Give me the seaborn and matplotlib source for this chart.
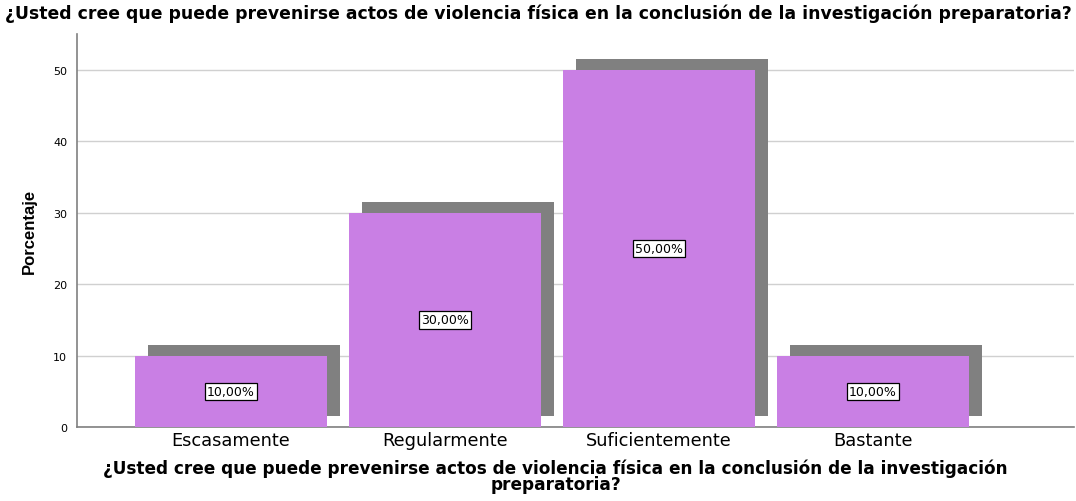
import numpy as np
import pandas as pd
import matplotlib
matplotlib.use("Agg")
import matplotlib.pyplot as plt
import seaborn as sns

# datos
categorias = ["Escasamente", "Regularmente", "Suficientemente", "Bastante"]
porcentajes = [10.0, 30.0, 50.0, 10.0]
etiquetas = ["10,00%", "30,00%", "50,00%", "10,00%"]
titulo = "¿Usted cree que puede prevenirse actos de violencia física en la conclusión de la investigación preparatoria?"
titulo_x = "¿Usted cree que puede prevenirse actos de violencia física en la conclusión de la investigación\npreparatoria?"

sns.set_style("white")
plt.rcParams['font.family'] = ['DejaVu Sans']
plt.rcParams['text.color'] = 'black'
plt.rcParams['axes.labelcolor'] = 'black'
plt.rcParams['xtick.color'] = 'black'
plt.rcParams['ytick.color'] = 'black'

df = pd.DataFrame({"categoria": categorias, "porcentaje": porcentajes})

fig = plt.figure(figsize=(10.76, 5.02), dpi=100)
ax = fig.add_axes([77 / 1076, 1 - 428 / 502, (1074 - 77) / 1076, (428 - 35) / 502])

# sombra de las barras
pos = np.arange(len(categorias))
ax.bar(pos + 0.062, porcentajes, bottom=1.5, width=0.897, color="#808080",
       linewidth=0, zorder=2)

# barras principales
sns.barplot(data=df, x="categoria", y="porcentaje", color="#C97FE4",
            saturation=1, width=0.897, ax=ax, zorder=3, linewidth=0)

for i, (v, txt) in enumerate(zip(porcentajes, etiquetas)):
    ax.text(i, v / 2, txt, ha="center", va="center", fontsize=9, zorder=5,
            bbox=dict(boxstyle="square,pad=0.18", fc="white", ec="black", lw=0.9))

ax.set_xlim(-0.72, 3.94)
ax.set_ylim(0, 55)
ax.set_yticks([0, 10, 20, 30, 40, 50])
ax.yaxis.grid(True, color="#d0d0d0", linewidth=1, zorder=0)
ax.set_axisbelow(True)

for s in ["top", "right"]:
    ax.spines[s].set_visible(False)
for s in ["left", "bottom"]:
    ax.spines[s].set_color("#808080")
    ax.spines[s].set_linewidth(1.2)

ax.tick_params(axis="y", labelsize=8, length=4, color="#808080", pad=3)
ax.tick_params(axis="x", labelsize=12.8, length=0, pad=3)

ax.set_ylabel("Porcentaje", fontsize=12, fontweight="bold", labelpad=12,
              family=["Liberation Sans Narrow", "Liberation Sans"])
ax.set_xlabel(titulo_x, fontsize=12.2, fontweight="bold", linespacing=0.88)
ax.xaxis.set_label_coords(0.48, -0.08, transform=ax.transAxes)
ax.xaxis.label.set_va("top")

fig.text(0.5, 0.992, titulo, ha="center", va="top", fontsize=12.4, fontweight="bold")

fig.savefig("out.png", dpi=100)
plt.close(fig)
